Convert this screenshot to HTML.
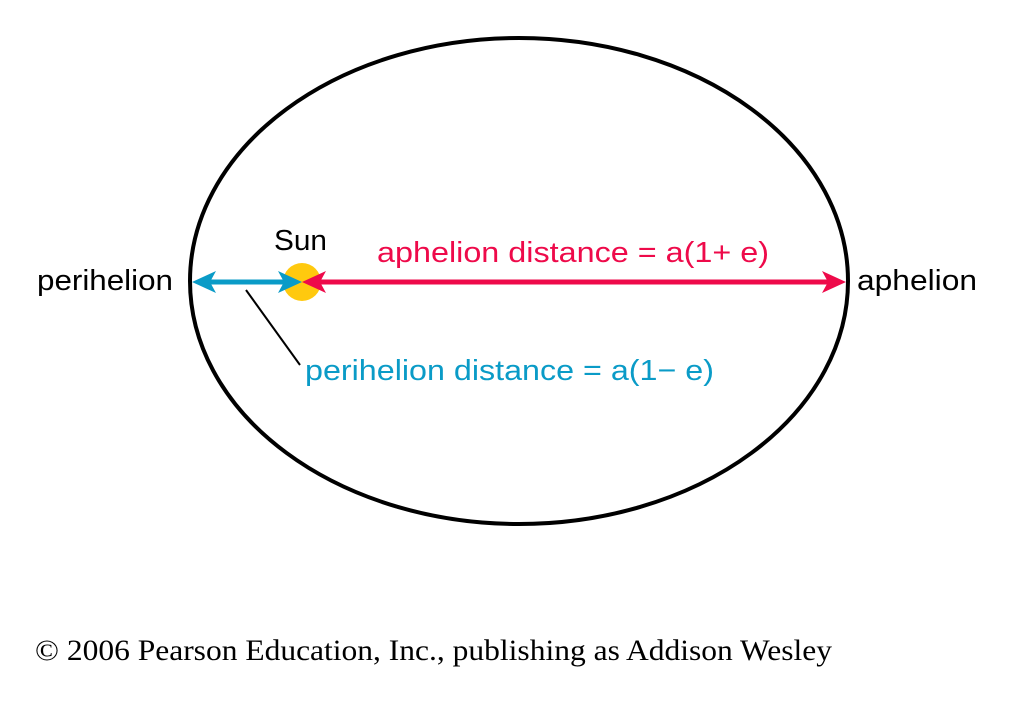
<!DOCTYPE html>
<html><head><meta charset="utf-8"><style>
html,body{margin:0;padding:0;background:#fff;}
svg{display:block;}
text{font-family:"Liberation Sans",sans-serif;font-size:29px;}
</style></head><body>
<svg width="1014" height="705" viewBox="0 0 1014 705">
<ellipse cx="519" cy="281" rx="329" ry="243" fill="none" stroke="#000" stroke-width="4"/>
<circle cx="302" cy="282" r="19" fill="#FFC90E"/>
<g>
<line x1="205" y1="282" x2="290" y2="282" stroke="#0A9BC7" stroke-width="5"/>
<polygon points="192,282 216,271 210,282 216,293" fill="#0A9BC7"/>
<polygon points="302,282 278,271 284,282 278,293" fill="#0A9BC7"/>
</g>
<g>
<line x1="314" y1="282" x2="834" y2="282" stroke="#EE0A4A" stroke-width="5"/>
<polygon points="302,282 326,271 320,282 326,293" fill="#EE0A4A"/>
<polygon points="846,282 822,271 828,282 822,293" fill="#EE0A4A"/>
</g>
<line x1="246" y1="290" x2="300" y2="365" stroke="#000" stroke-width="2"/>
<text x="37" y="290" fill="#000" textLength="136" lengthAdjust="spacingAndGlyphs">perihelion</text>
<text x="857" y="290" fill="#000" textLength="120" lengthAdjust="spacingAndGlyphs">aphelion</text>
<text x="274" y="250" fill="#000" textLength="53" lengthAdjust="spacingAndGlyphs">Sun</text>
<text x="377" y="262" fill="#EE0A4A" textLength="392" lengthAdjust="spacingAndGlyphs">aphelion distance = a(1+ e)</text>
<text x="305" y="380" fill="#0A9BC7" textLength="409" lengthAdjust="spacingAndGlyphs">perihelion distance = a(1− e)</text>
<text x="35" y="660" fill="#000" textLength="797" lengthAdjust="spacingAndGlyphs" style="font-family:'Liberation Serif',serif;font-size:30px">© 2006 Pearson Education, Inc., publishing as Addison Wesley</text>
</svg>
</body></html>
